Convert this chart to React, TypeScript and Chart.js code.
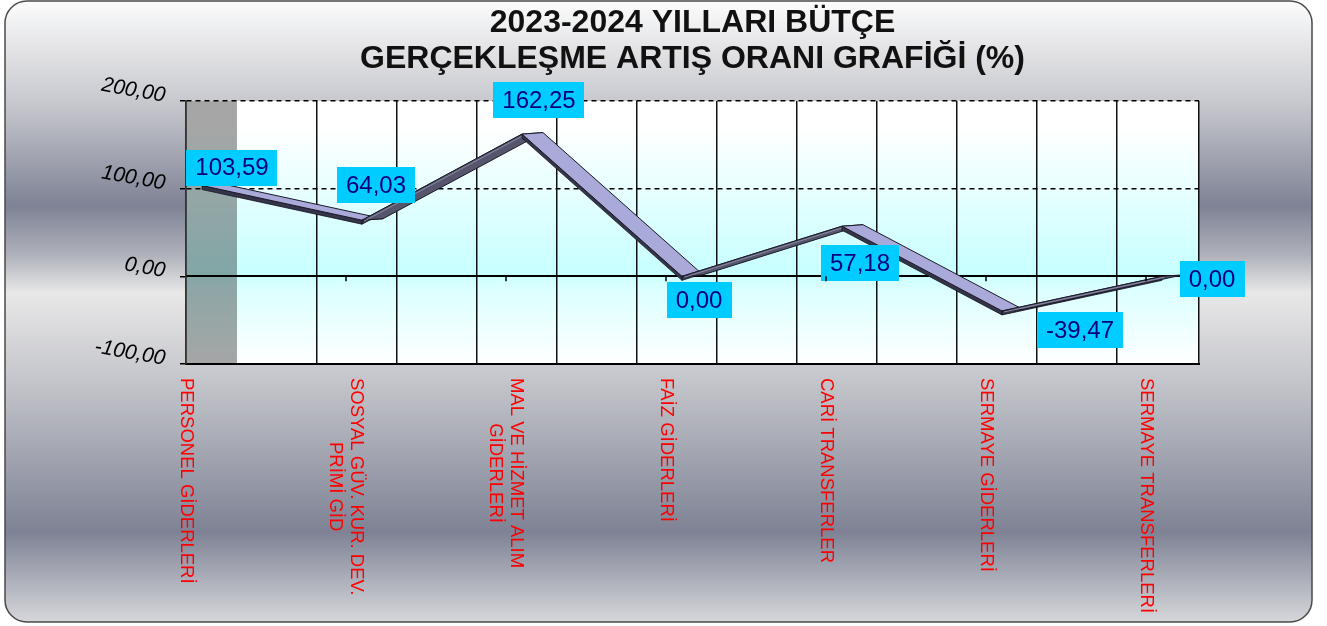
import React, { useEffect, useRef } from 'react';
import { Chart, registerables } from 'chart.js';

Chart.register(...registerables);

// ---------- data ----------
const titleLines = ['2023-2024 YILLARI BÜTÇE', 'GERÇEKLEŞME ARTIŞ ORANI GRAFİĞİ (%)'];
const categories: string[][] = [
  ['PERSONEL GİDERLERİ'],
  ['SOSYAL GÜV. KUR. DEV.', 'PRİMİ GİD'],
  ['MAL VE HİZMET ALIM', 'GİDERLERİ'],
  ['FAİZ GİDERLERİ'],
  ['CARİ TRANSFERLER'],
  ['SERMAYE GİDERLERİ'],
  ['SERMAYE TRANSFERLERİ'],
];
const values: number[] = [103.59, 64.03, 162.25, 0.0, 57.18, -39.47, 0.0];
const yTickValues: number[] = [-100, 0, 100, 200];

// ---------- style ----------
const FONT = '"Liberation Sans", Arial, sans-serif';
const labelShift: number[][] = [[46, -18], [30, -35], [33, -34], [33, 24], [34, 37], [94, 19], [66, 3]];
const FRONT_SHIFT = 16;
const DEPTH = { x: 21, y: -1.5 };
const THICK = 4;

const fmt = (v: number) => v.toFixed(2).replace('.', ',');

const backgroundPlugin = {
  id: 'bgFrame',
  beforeDraw(chart: any) {
    const { ctx, chartArea } = chart;
    ctx.save();
    const x0 = 5, y0 = 1, x1 = 1312, y1 = 622, r = 22;
    const g = ctx.createLinearGradient(0, y0, 0, y1);
    g.addColorStop(0, '#fcfcfc');
    g.addColorStop(0.17, '#c5c6cc');
    g.addColorStop(0.33, '#7e8294');
    g.addColorStop(0.41, '#b0b2bb');
    g.addColorStop(0.47, '#e8e8e8');
    g.addColorStop(0.62, '#c2c3c9');
    g.addColorStop(0.855, '#7e8294');
    g.addColorStop(1, '#d6d7db');
    ctx.beginPath();
    ctx.moveTo(x0 + r, y0);
    ctx.lineTo(x1 - r, y0);
    ctx.arcTo(x1, y0, x1, y0 + r, r);
    ctx.lineTo(x1, y1 - r);
    ctx.arcTo(x1, y1, x1 - r, y1, r);
    ctx.lineTo(x0 + r, y1);
    ctx.arcTo(x0, y1, x0, y1 - r, r);
    ctx.lineTo(x0, y0 + r);
    ctx.arcTo(x0, y0, x0 + r, y0, r);
    ctx.closePath();
    ctx.fillStyle = g;
    ctx.fill();
    ctx.lineWidth = 1.5;
    ctx.strokeStyle = '#4a4a4a';
    ctx.stroke();

    const { left, right, top, bottom } = chartArea;
    const pg = ctx.createLinearGradient(0, top, 0, bottom);
    pg.addColorStop(0, '#ffffff');
    pg.addColorStop(0.1, '#ffffff');
    pg.addColorStop(0.65, '#c8ffff');
    pg.addColorStop(0.72, '#dcffff');
    pg.addColorStop(1, '#ffffff');
    ctx.fillStyle = pg;
    ctx.fillRect(left, top, right - left, bottom - top);

    const gx = chart.scales.xGrid;
    const wallRight = gx.getPixelForValue(0);
    ctx.globalCompositeOperation = 'multiply';
    ctx.fillStyle = '#a6a6a6';
    ctx.fillRect(left, top, wallRight - left, bottom - top);
    ctx.restore();
  },
};

const ribbonPlugin = {
  id: 'ribbon',
  afterDatasetsDraw(chart: any) {
    const { ctx } = chart;
    const meta = chart.getDatasetMeta(0);
    const pts = meta.data.map((p: any) => ({ x: p.x + FRONT_SHIFT, y: p.y }));
    ctx.save();
    ctx.lineJoin = 'round';
    for (let i = 0; i < pts.length - 1; i++) {
      const a = pts[i];
      const b = pts[i + 1];
      const dx = b.x - a.x;
      const dy = b.y - a.y;
      const cross = dx * DEPTH.y - dy * DEPTH.x;
      const topVisible = cross <= 0;
      ctx.beginPath();
      ctx.moveTo(a.x, a.y);
      ctx.lineTo(b.x, b.y);
      ctx.lineTo(b.x, b.y + THICK);
      ctx.lineTo(a.x, a.y + THICK);
      ctx.closePath();
      ctx.fillStyle = '#34344a';
      ctx.fill();
      ctx.lineWidth = 0.8;
      ctx.strokeStyle = '#15151f';
      ctx.stroke();
      ctx.beginPath();
      ctx.moveTo(a.x, a.y);
      ctx.lineTo(b.x, b.y);
      ctx.lineTo(b.x + DEPTH.x, b.y + DEPTH.y);
      ctx.lineTo(a.x + DEPTH.x, a.y + DEPTH.y);
      ctx.closePath();
      ctx.fillStyle = topVisible ? '#a9a9da' : '#55556c';
      ctx.fill();
      ctx.strokeStyle = '#1a1a26';
      ctx.lineWidth = 1;
      ctx.stroke();
      if (!topVisible) {
        ctx.beginPath();
        ctx.moveTo(a.x + 2, a.y + 1);
        ctx.lineTo(b.x + 2, b.y + 1);
        ctx.strokeStyle = '#8a8aaa';
        ctx.lineWidth = 1;
        ctx.stroke();
      }
    }

    ctx.font = `24px ${FONT}`;
    ctx.textAlign = 'center';
    ctx.textBaseline = 'middle';
    meta.data.forEach((p: any, i: number) => {
      const text = fmt(values[i]);
      const w = ctx.measureText(text).width + 18;
      const h = 36;
      const cx = p.x + labelShift[i][0];
      const cy = p.y + labelShift[i][1];
      ctx.fillStyle = '#00ccff';
      ctx.fillRect(Math.round(cx - w / 2), Math.round(cy - h / 2), Math.round(w), h);
      ctx.fillStyle = '#000080';
      ctx.fillText(text, cx, cy + 1);
    });
    ctx.restore();
  },
};

const xLabelPlugin = {
  id: 'xLabels',
  afterDraw(chart: any) {
    const { ctx, chartArea } = chart;
    const xs = chart.scales.x;
    const ys = chart.scales.y;
    ctx.save();
    const y0 = ys.getPixelForValue(0);
    ctx.strokeStyle = '#000';
    ctx.lineWidth = 1.5;
    for (let i = 1; i < categories.length; i++) {
      const px = xs.getPixelForValue(i);
      ctx.beginPath();
      ctx.moveTo(px, y0);
      ctx.lineTo(px, y0 + 5);
      ctx.stroke();
    }
    ctx.font = `18.5px ${FONT}`;
    ctx.fillStyle = '#ff0000';
    ctx.textAlign = 'center';
    ctx.textBaseline = 'middle';
    const lineH = 21;
    const top = chartArea.bottom + 14;
    categories.forEach((lines, i) => {
      const px = xs.getPixelForValue(i);
      const maxW = Math.max(...lines.map((l) => ctx.measureText(l).width));
      const n = lines.length;
      lines.forEach((line, j) => {
        const cx = px + ((n - 1) / 2 - j) * lineH;
        ctx.save();
        ctx.translate(cx, top + maxW / 2);
        ctx.rotate(Math.PI / 2);
        ctx.fillText(line, 0, 0);
        ctx.restore();
      });
    });
    ctx.restore();
  },
};

export default function App() {
  const ref = useRef<HTMLCanvasElement>(null);
  useEffect(() => {
    if (!ref.current) return;
    const chart = new Chart(ref.current, {
      type: 'line',
      data: {
        datasets: [
          {
            data: values.map((v, i) => ({ x: i, y: v })),
            showLine: false,
            pointRadius: 0,
            pointHoverRadius: 0,
            xAxisID: 'x',
            yAxisID: 'y',
          },
        ],
      },
      options: {
        responsive: false,
        animation: false,
        devicePixelRatio: 1,
        layout: { padding: { left: 0, right: 128, top: 0, bottom: 0 } },
        plugins: {
          legend: { display: false },
          tooltip: { enabled: false },
          title: {
            display: true,
            text: titleLines,
            fullSize: false,
            color: '#111111',
            font: { family: FONT, size: 32, weight: 'bold', lineHeight: '36px' },
            padding: { top: 5, bottom: 24 },
          },
        },
        scales: {
          x: {
            type: 'linear',
            position: 'bottom',
            min: 0,
            max: (1199 - 186) / 160,
            ticks: { display: false },
            grid: { display: false },
            border: { display: true, color: '#000', width: 2 },
            afterFit: (s: any) => {
              s.height = 262;
            },
          },
          xGrid: {
            type: 'linear',
            position: 'bottom',
            min: -51 / 80,
            max: (1199 - 237) / 80,
            ticks: { display: false, stepSize: 1 },
            grid: { color: '#111', lineWidth: 1.5, drawTicks: false },
            border: { display: false },
            afterFit: (s: any) => {
              s.height = 0;
            },
          },
          y: {
            type: 'linear',
            position: 'left',
            min: -100,
            max: 200,
            afterBuildTicks: (s: any) => {
              s.ticks = yTickValues.map((v) => ({ value: v }));
            },
            ticks: {
              callback: (v: any) => fmt(Number(v)),
              font: { family: FONT, size: 21, style: 'italic' },
              color: '#000',
              padding: 15,
              minRotation: -10,
              maxRotation: -10,
              labelOffset: -5,
            },
            grid: {
              color: (c: any) => (c.tick && c.tick.value >= 100 ? '#000' : 'rgba(0,0,0,0)'),
              lineWidth: 1.5,
              tickLength: 6,
              tickColor: '#000',
              tickWidth: 1.5,
            },
            border: { display: true, color: '#333', width: 1.5, dash: [5, 4] },
            afterFit: (s: any) => {
              s.width = 186;
            },
          },
          y2: {
            type: 'linear',
            position: 'left',
            min: -100,
            max: 200,
            afterBuildTicks: (s: any) => {
              s.ticks = yTickValues.map((v) => ({ value: v }));
            },
            ticks: { display: false },
            grid: {
              color: (c: any) => (c.tick && c.tick.value <= 0 ? '#000' : 'rgba(0,0,0,0)'),
              lineWidth: 2,
              drawTicks: false,
            },
            border: { display: false },
            afterFit: (s: any) => {
              s.width = 0;
            },
          },
        },
      },
      plugins: [backgroundPlugin, ribbonPlugin, xLabelPlugin],
    } as any);
    return () => chart.destroy();
  }, []);
  return (
    <div style={{ position: 'absolute', left: 0, top: 0, width: 1327, height: 626 }}>
      <canvas ref={ref} width={1327} height={626} style={{ display: 'block' }} />
    </div>
  );
}
